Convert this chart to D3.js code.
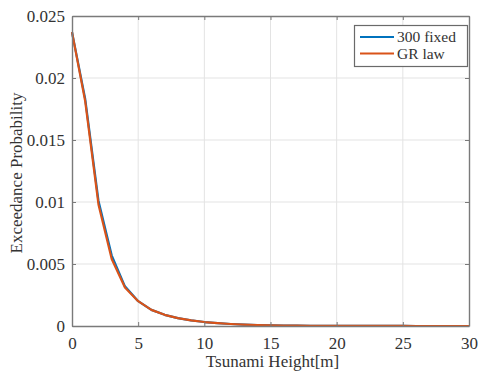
<!DOCTYPE html>
<html>
<head>
<meta charset="utf-8">
<script src="https://cdn.jsdelivr.net/npm/d3@7"></script>
<style>
  html, body { margin: 0; padding: 0; background: #fff; }
  svg { display: block; }
  text { font-family: "Liberation Serif", "Times New Roman", serif; fill: #333; }
</style>
</head>
<body>
<svg id="chart" width="481" height="376"></svg>
<script>
// Tsunami heights (m) at which the exceedance probability is evaluated
const heights = d3.range(0, 31, 1);

// Exceedance probability, 300 fixed scenarios
const fixed300 = [
  0.0237, 0.0183, 0.0101, 0.0057, 0.0032, 0.0020, 0.0013, 0.00090, 0.00063, 0.00045,
  0.00032, 0.00023, 0.00016, 0.00011, 0.00008, 0.00006, 0.00004, 0.00003, 0.00002, 0.000015,
  0.00001, 0.000008, 0.000006, 0.000005, 0.000004, 0.000003, 0.000002, 0.000002, 0.000001, 0.000001,
  0.000001
];

// Exceedance probability, Gutenberg-Richter law
const grLaw = [
  0.0237, 0.0181, 0.0098, 0.0054, 0.0031, 0.0020, 0.0013, 0.00090, 0.00063, 0.00045,
  0.00032, 0.00023, 0.00016, 0.00011, 0.00008, 0.00006, 0.00004, 0.00003, 0.00002, 0.000015,
  0.00001, 0.000008, 0.000006, 0.000005, 0.000004, 0.000003, 0.000002, 0.000002, 0.000001, 0.000001,
  0.000001
];

const xTicks = [0, 5, 10, 15, 20, 25, 30];
const yTicks = [0, 0.005, 0.01, 0.015, 0.02, 0.025];
const yTickLabels = ["0", "0.005", "0.01", "0.015", "0.02", "0.025"];

const seriesNames = ["300 fixed", "GR law"];
const seriesColors = ["#0072BD", "#D95319"];

const svg = d3.select("#chart");
const m = { left: 72, right: 469, top: 16, bottom: 326 };

const x = d3.scaleLinear().domain([0, 30]).range([m.left, m.right]);
const y = d3.scaleLinear().domain([0, 0.025]).range([m.bottom, m.top]);

// grid
const grid = svg.append("g");
grid.selectAll(".gx").data(xTicks.slice(1, -1)).join("line")
  .attr("x1", d => x(d)).attr("x2", d => x(d))
  .attr("y1", m.top).attr("y2", m.bottom)
  .attr("stroke", "#e3e3e3").attr("stroke-width", 1);
grid.selectAll(".gy").data(yTicks.slice(1, -1)).join("line")
  .attr("x1", m.left).attr("x2", m.right)
  .attr("y1", d => y(d)).attr("y2", d => y(d))
  .attr("stroke", "#e3e3e3").attr("stroke-width", 1);

// series lines
const line = d3.line().x((d, i) => x(heights[i])).y(d => y(d));
[fixed300, grLaw].forEach((s, k) => {
  svg.append("path")
    .datum(s)
    .attr("d", line)
    .attr("fill", "none")
    .attr("stroke", seriesColors[k])
    .attr("stroke-width", 2.2)
    .attr("stroke-linejoin", "round");
});

// axes (inward ticks on all four sides, MATLAB-like box)
const axisColor = "#7a7a7a";
const tickLen = 4;
const bottomAxis = d3.axisBottom(x).tickValues(xTicks).tickSizeInner(-tickLen).tickSizeOuter(0).tickPadding(11);
const leftAxis = d3.axisLeft(y).tickValues(yTicks).tickFormat((d, i) => yTickLabels[i]).tickSizeInner(-tickLen).tickSizeOuter(0).tickPadding(7);
const topAxis = d3.axisTop(x).tickValues(xTicks).tickSizeInner(-tickLen).tickSizeOuter(0).tickFormat("");
const rightAxis = d3.axisRight(y).tickValues(yTicks).tickSizeInner(-tickLen).tickSizeOuter(0).tickFormat("");

function styleAxis(g) {
  g.select(".domain").attr("stroke", axisColor).attr("stroke-width", 1.4);
  g.selectAll(".tick line").attr("stroke", axisColor).attr("stroke-width", 1);
  g.selectAll(".tick text")
    .attr("fill", "#333")
    .style("font-family", '"Liberation Serif", "Times New Roman", serif')
    .style("font-size", "17px");
}

svg.append("g").attr("transform", `translate(0,${m.bottom})`).call(bottomAxis).call(styleAxis);
svg.append("g").attr("transform", `translate(${m.left},0)`).call(leftAxis).call(styleAxis);
svg.append("g").attr("transform", `translate(0,${m.top})`).call(topAxis).call(styleAxis);
svg.append("g").attr("transform", `translate(${m.right},0)`).call(rightAxis).call(styleAxis);

// axis titles
svg.append("text")
  .attr("x", (m.left + m.right) / 2 + 2)
  .attr("y", 367)
  .attr("text-anchor", "middle")
  .style("font-size", "17px")
  .text("Tsunami Height[m]");

svg.append("text")
  .attr("transform", `translate(22,${(m.top + m.bottom) / 2 + 2}) rotate(-90)`)
  .attr("text-anchor", "middle")
  .style("font-size", "17px")
  .text("Exceedance Probability");

// legend
const lg = svg.append("g");
lg.append("rect")
  .attr("x", 354.5).attr("y", 25.5)
  .attr("width", 113).attr("height", 41)
  .attr("fill", "#fff")
  .attr("stroke", "#6a6a6a").attr("stroke-width", 1.2);
seriesNames.forEach((name, i) => {
  const yy = 37 + i * 16.5;
  lg.append("line")
    .attr("x1", 360).attr("x2", 394)
    .attr("y1", yy).attr("y2", yy)
    .attr("stroke", seriesColors[i]).attr("stroke-width", 2.2);
  lg.append("text")
    .attr("x", 397).attr("y", yy + 5)
    .style("font-size", "15.5px")
    .attr("fill", "#222")
    .text(name);
});
</script>
</body>
</html>
